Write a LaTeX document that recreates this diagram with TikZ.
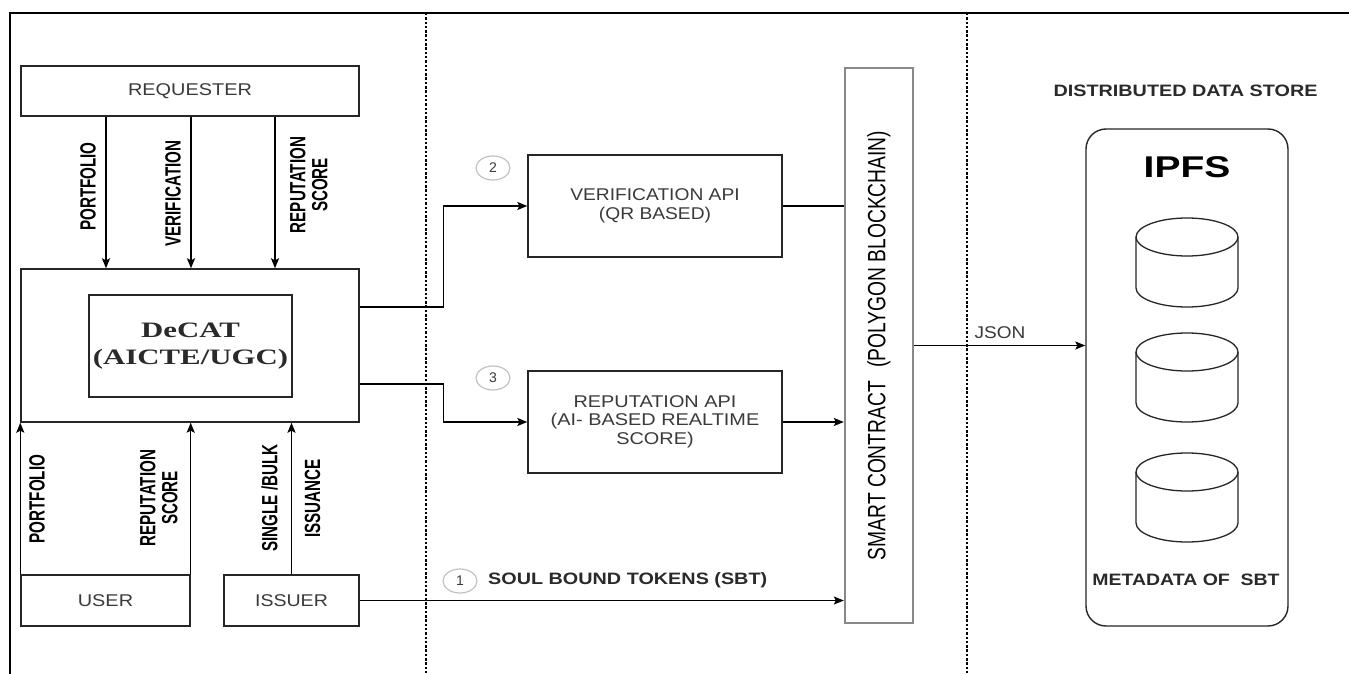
\documentclass[tikz,border=0pt]{standalone}
\usepackage{fontspec}
\setmainfont{Liberation Sans}
\newfontfamily\tnrfont{Liberation Serif}
\usepackage{graphicx}
\usetikzlibrary{shapes.geometric,arrows.meta,calc}
\definecolor{txtgrey}{HTML}{3A3A3A}
\definecolor{darktxt}{HTML}{2A2A2A}
\definecolor{boxc}{HTML}{262626}
\definecolor{scgrey}{HTML}{888888}
\definecolor{circgrey}{HTML}{C2C2C2}
\newcommand{\hs}[2]{\scalebox{#1}[1]{#2}}
\newcommand{\ml}[1]{\begin{tabular}{@{}c@{}}#1\end{tabular}}
\tikzset{
  box/.style={draw=boxc, line width=1.4pt, rectangle, inner sep=0pt, text=txtgrey, font=\fontsize{17}{19}\selectfont},
  lbl/.style={inner sep=0pt, text=txtgrey, font=\fontsize{17}{19}\selectfont},
  blbl/.style={inner sep=0pt, text=darktxt, font=\fontsize{16.5}{19}\selectfont\bfseries},
  vlbl/.style={inner sep=0pt, rotate=90, text=black, font=\fontsize{22}{22}\selectfont\bfseries},
  arr/.style={-{Stealth[length=10pt,width=8pt,inset=2pt]}, line width=1.3pt, draw=black},
  ln/.style={line width=1.3pt, draw=black},
  sep/.style={line width=1.3pt, dash pattern=on 2.5pt off 1.8pt},
  num/.style={ellipse, draw=circgrey, line width=1.2pt, minimum width=34pt, minimum height=24pt, inner sep=0pt, text=txtgrey, font=\fontsize{14}{14}\selectfont},
  cyl/.style={draw=boxc, line width=1.3pt},
}
\begin{document}
\begin{tikzpicture}[x=1pt,y=-1pt]
\fill[white] (0,0) rectangle (1349,674);
\useasboundingbox (0,0) rectangle (1349,674);
% frame
\coordinate (fl) at (10,13);
\coordinate (fr) at (1349,13);
\coordinate (fb) at (10,674);
\draw[line width=2pt] (fr) -- (fl) -- (fb);
% separators
\coordinate (s1t) at (426,13);
\coordinate (s1b) at (426,674);
\coordinate (s2t) at (967,13);
\coordinate (s2b) at (967,674);
\draw[sep] (s1t) -- (s1b);
\draw[sep] (s2t) -- (s2b);

% left column
\node[box, minimum width=338pt, minimum height=50pt] (requester) at (190,91) {\hs{1.17}{REQUESTER}};
\node[box, minimum width=338pt, minimum height=153pt] (decat) at (190,345.5) {};
\node[box, minimum width=203pt, minimum height=102pt, text=darktxt, font=\tnrfont\fontsize{22}{27}\selectfont\bfseries] (inner) at (190.5,346) {\hs{1.4}{\ml{DeCAT\\(AICTE/UGC)}}};
\node[box, minimum width=169pt, minimum height=51pt] (user) at (105.5,600.5) {\hs{1.17}{USER}};
\node[box, minimum width=135pt, minimum height=51pt] (issuer) at (291.5,600.5) {\hs{1.15}{ISSUER}};

% requester arrows
\draw[arr] ([xshift=-84pt]requester.south) -- ([xshift=-84pt]decat.north);
\draw[arr] ([xshift=1pt]requester.south) -- ([xshift=1pt]decat.north);
\draw[arr] ([xshift=85pt]requester.south) -- ([xshift=85pt]decat.north);
\node[vlbl] (lp1) at (88,186.5) {\hs{0.69}{PORTFOLIO}};
\node[vlbl] (lv1) at (173,193.5) {\hs{0.69}{VERIFICATION}};
\node[vlbl] (lr1) at (312,185) {\hs{0.69}{\ml{REPUTATION\\SCORE}}};

% user / issuer arrows
\draw[arr] (user.north west) -- (user.north west |- decat.south);
\draw[arr] (user.north east) -- (user.north east |- decat.south);
\draw[arr] (issuer.north) -- (issuer.north |- decat.south);
\node[vlbl] (lp2) at (37,499) {\hs{0.69}{PORTFOLIO}};
\node[vlbl] (lr2) at (162,498) {\hs{0.69}{\ml{REPUTATION\\SCORE}}};
\node[vlbl] (lsb) at (269.5,498) {\hs{0.69}{SINGLE /BULK}};
\node[vlbl] (lis) at (312.5,498.5) {\hs{0.69}{ISSUANCE}};

% APIs
\node[box, minimum width=254pt, minimum height=102pt] (verapi) at (655,206) {\hs{1.13}{\ml{VERIFICATION API\\(QR BASED)}}};
\node[box, minimum width=254pt, minimum height=102pt, font=\fontsize{17}{18.5}\selectfont] (repapi) at (655,422) {\hs{1.17}{\ml{REPUTATION API\\(AI- BASED REALTIME\\SCORE)}}};
\node[num] (n2) at (493,168) {2};
\node[num] (n3) at (493,378) {3};
\node[num] (n1) at (460,581) {1};

% smart contract
\node[draw=scgrey, line width=2.4pt, minimum width=68pt, minimum height=555pt, inner sep=0pt] (sc) at (879,345.5) {};
\node[rotate=90, inner sep=0pt, text=black, font=\fontsize{25}{25}\selectfont] (sctxt) at (sc.center) {\hs{0.77}{SMART CONTRACT\hspace{17pt}(POLYGON BLOCKCHAIN)}};

% connectors to APIs
\draw[arr] ([yshift=38.5pt]decat.east) -- ++(84,0) |- (verapi.west);
\draw[arr] ([yshift=-38.5pt]decat.east) -- ++(84,0) |- (repapi.west);
\draw[ln] (verapi.east) -- (verapi.east -| sc.west);
\draw[arr] (repapi.east) -- (repapi.east -| sc.west);
\draw[arr] (issuer.east) -- (issuer.east -| sc.west);
\node[blbl, anchor=west] (sbt) at (488,580) {\hs{1.2}{SOUL BOUND TOKENS (SBT)}};

% IPFS
\node[blbl] (dds) at (1185.5,91) {\hs{1.2}{DISTRIBUTED DATA STORE}};
\node[draw=boxc, line width=1.4pt, rounded corners=20pt, minimum width=202pt, minimum height=497pt, inner sep=0pt] (ipfs) at (1187,377.5) {};
\node[inner sep=0pt, text=black, font=\fontsize{30}{30}\selectfont\bfseries] (ipfst) at (1187,167) {\hs{1.3}{IPFS}};
\foreach \t in {218,333,453} {
  \draw[cyl] (1187,\t+19) ellipse [x radius=51, y radius=19];
  \draw[cyl] (1136,\t+19) -- (1136,\t+70) arc[start angle=180, end angle=0, x radius=51, y radius=19] -- (1238,\t+19);
}
\node[blbl] (meta) at (1186,580) {\hs{1.18}{METADATA OF\ \ SBT}};
\draw[arr] (sc.east) -- (sc.east -| ipfs.west);
\node[lbl] (json) at (1000,333) {\hs{1.12}{JSON}};
\end{tikzpicture}
\end{document}
